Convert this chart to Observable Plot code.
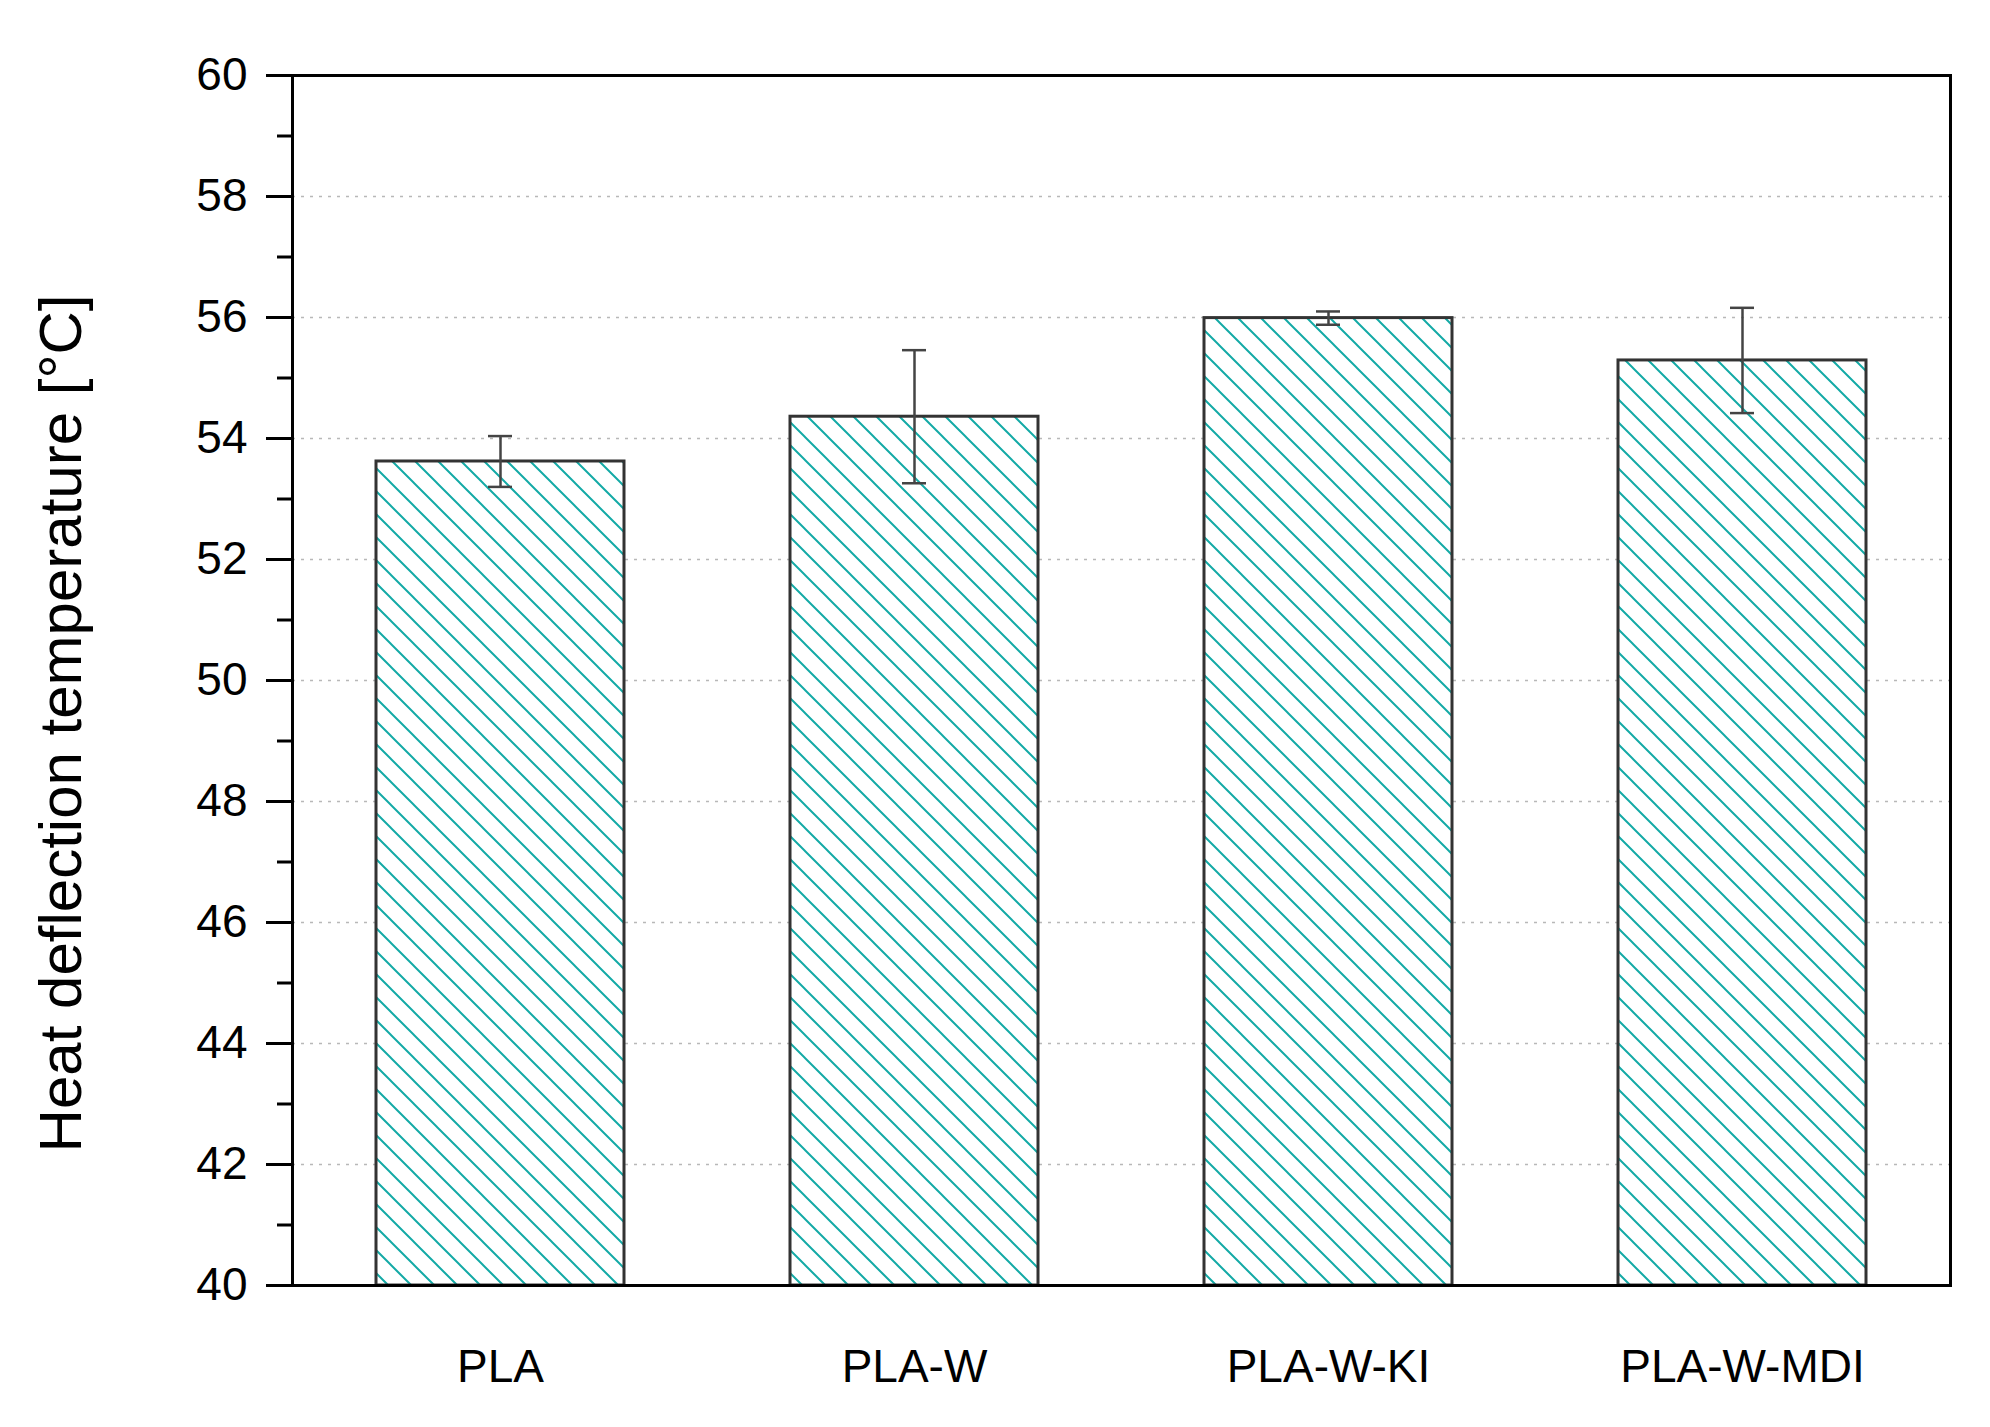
<!DOCTYPE html>
<html>
<head>
<meta charset="utf-8">
<script src="https://cdn.jsdelivr.net/npm/d3@7"></script>
<script src="https://cdn.jsdelivr.net/npm/@observablehq/plot@0.6"></script>
<style>
  html, body { margin: 0; padding: 0; background: #fff; }
  #chart { width: 1990px; height: 1427px; }
</style>
</head>
<body>
<div id="chart"></div>
<script>
const categories = ["PLA", "PLA-W", "PLA-W-KI", "PLA-W-MDI"];
const hdtValues = [53.62, 54.36, 55.99, 55.29];
const hdtErrors = [0.42, 1.10, 0.11, 0.87];
const majorTicks = [40, 42, 44, 46, 48, 50, 52, 54, 56, 58, 60];
const minorTicks = [41, 43, 45, 47, 49, 51, 53, 55, 57, 59];
const gridTicks = [42, 44, 46, 48, 50, 52, 54, 56, 58];
const yTitle = "Heat deflection temperature [°C]";

const data = categories.map((c, i) => ({name: c, value: hdtValues[i], err: hdtErrors[i]}));

const font = "'Liberation Sans', Arial, Helvetica, sans-serif";

const svg = Plot.plot({
  width: 1990,
  height: 1427,
  marginLeft: 292,
  marginRight: 40,
  marginTop: 75,
  marginBottom: 142,
  style: {fontFamily: font, background: "white", color: "black"},
  x: {type: "band", domain: categories, paddingInner: 0.4, paddingOuter: 0.2, label: null},
  y: {domain: [40, 60], label: null},
  marks: [
    Plot.gridY(gridTicks, {stroke: "#b8b8b8", strokeOpacity: 1, strokeWidth: 1.5, strokeDasharray: "3,6"}),
    Plot.barY(data, {x: "name", y1: 40, y2: "value", fill: "white"}),
    Plot.barY(data, {x: "name", y1: 40, y2: "value", fill: "url(#hatch)", stroke: "#333", strokeWidth: 3}),
    Plot.ruleX(data, {x: "name", y1: d => d.value - d.err, y2: d => d.value + d.err, stroke: "#444", strokeWidth: 2.5}),
    Plot.tickY(data, {x: "name", y: d => d.value + d.err, stroke: "#444", strokeWidth: 2.5, insetLeft: 112, insetRight: 112}),
    Plot.tickY(data, {x: "name", y: d => d.value - d.err, stroke: "#444", strokeWidth: 2.5, insetLeft: 112, insetRight: 112}),
    Plot.axisY(minorTicks, {tickSize: 15, text: null, strokeWidth: 3, stroke: "black", label: null}),
    Plot.axisY(majorTicks, {tickSize: 26, tickPadding: 19, fontSize: 46, strokeWidth: 3, stroke: "black", fill: "black", label: null, tickFormat: d => String(d)}),
    Plot.axisX({tickSize: 0, tickPadding: 64, fontSize: 46, fill: "black", label: null}),
    Plot.frame({stroke: "black", strokeWidth: 3}),
    Plot.text([yTitle], {frameAnchor: "left", rotate: -90, dx: -212, dy: 43, lineAnchor: "bottom", textAnchor: "middle", fontSize: 60, fill: "black"})
  ]
});

const sel = d3.select(svg);
const defs = sel.insert("defs", ":first-child");
const pat = defs.append("pattern")
  .attr("id", "hatch")
  .attr("patternUnits", "userSpaceOnUse")
  .attr("width", 23)
  .attr("height", 23);
pat.append("path")
  .attr("d", "M-3,-3 L26,26 M-3,20 L3,26 M20,-3 L26,3")
  .attr("stroke", "#14aaa6")
  .attr("stroke-width", 2)
  .attr("fill", "none");

document.getElementById("chart").appendChild(svg);
</script>
</body>
</html>
